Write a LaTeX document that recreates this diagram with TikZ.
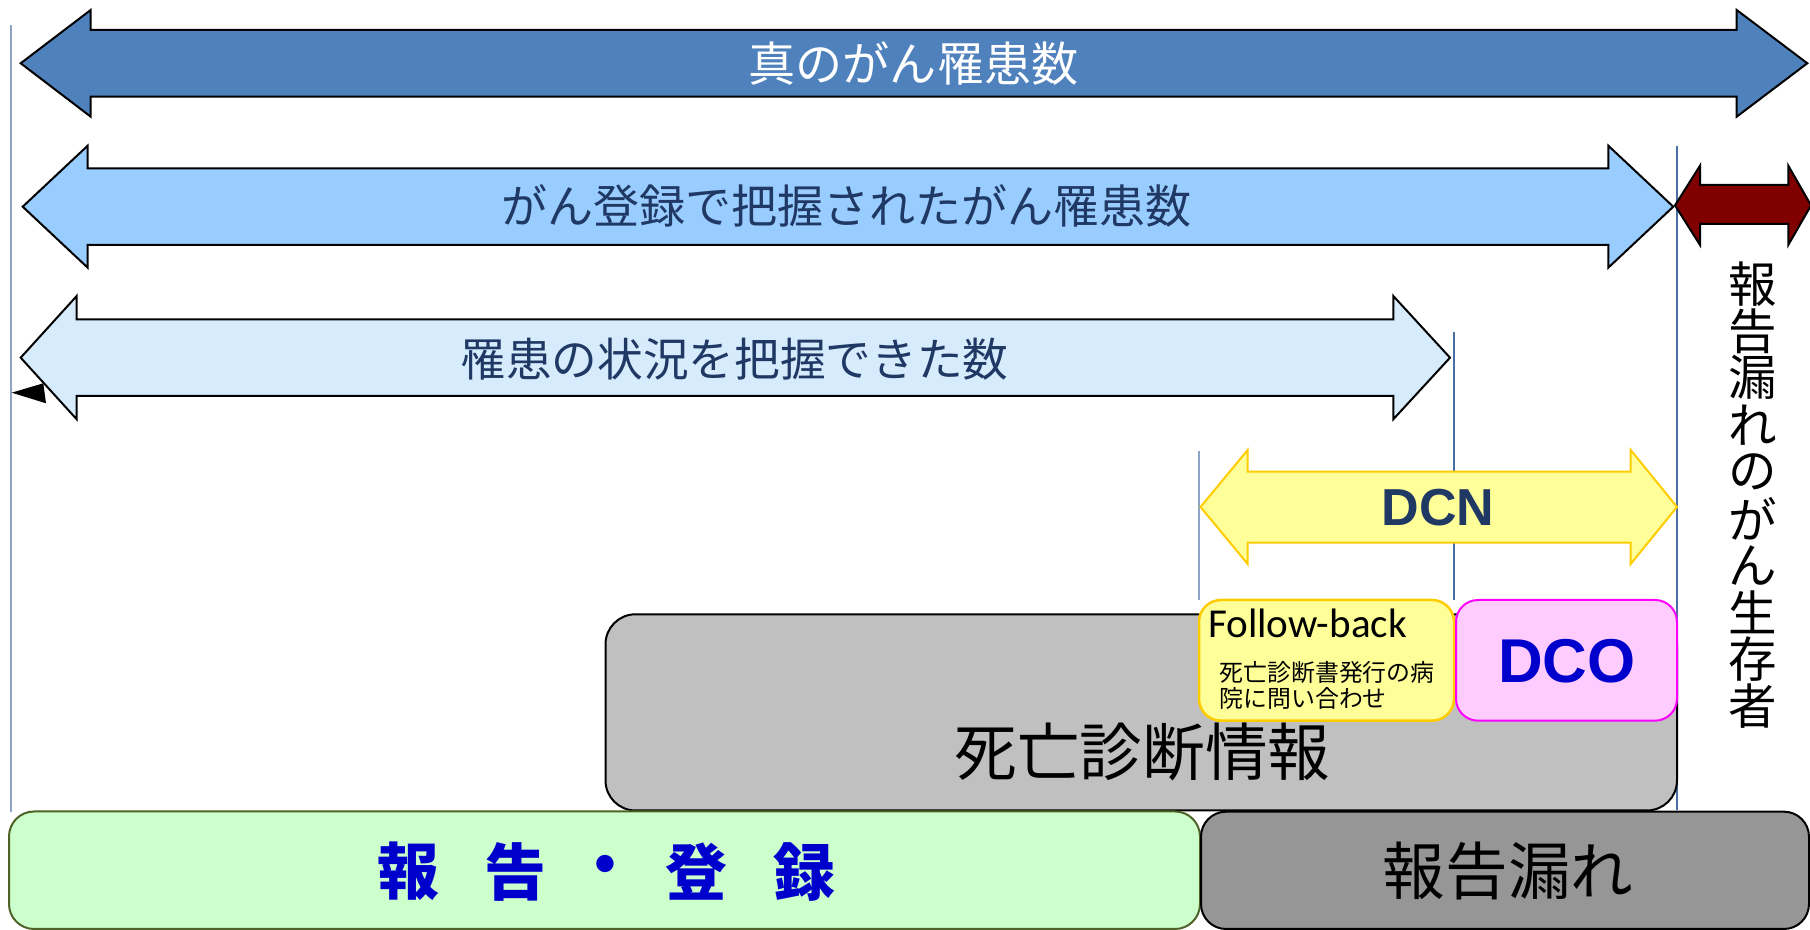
\documentclass[tikz,border=0pt]{standalone}
\usepackage{fontspec}
\newfontfamily\jp{Noto Sans CJK JP}
\newfontfamily\latfont{Liberation Sans}
\newfontfamily\calfont{Carlito}
\definecolor{cTrue}{HTML}{4F81BD}
\definecolor{cReg}{HTML}{99CCFF}
\definecolor{cKnown}{HTML}{D6EBFC}
\definecolor{cNavy}{HTML}{1F3864}
\definecolor{cMiss}{HTML}{800000}
\definecolor{cYel}{HTML}{FFFF99}
\definecolor{cGold}{HTML}{FFCC00}
\definecolor{cPink}{HTML}{FFCCFF}
\definecolor{cMag}{HTML}{FF00FF}
\definecolor{cBlue}{HTML}{0000CC}
\definecolor{cGray}{HTML}{C0C0C0}
\definecolor{cDark}{HTML}{969696}
\definecolor{cGreen}{HTML}{CCFFCC}
\definecolor{cOlive}{HTML}{4F6228}
\definecolor{cGuideA}{HTML}{8DA3C8}
\definecolor{cGuideB}{HTML}{4A6FA5}
\tikzset{
  arrowshape/.style={draw=black, line width=0.2mm, line join=miter},
  guideA/.style={draw=cGuideA, line width=0.15mm},
  guideB/.style={draw=cGuideB, line width=0.15mm},
  txt/.style={inner sep=0pt, outer sep=0pt},
  boxshape/.style={draw=black, line width=0.2mm},
}
\begin{document}
\begin{tikzpicture}[x=0.1mm, y=-0.1mm]
\useasboundingbox (0,0) rectangle (1810,930);

% guide lines
\coordinate (g1a) at (11,25);      \coordinate (g1b) at (11,812);
\coordinate (g2a) at (1677,146);   \coordinate (g2b) at (1677,810);
\coordinate (g3a) at (1454,331.7); \coordinate (g3b) at (1454,600);
\coordinate (g4a) at (1199,450.7); \coordinate (g4b) at (1199,600);
\draw[guideA] (g1a) -- (g1b);
\draw[guideB] (g2a) -- (g2b);
\draw[guideB] (g3a) -- (g3b);
\draw[guideA] (g4a) -- (g4b);

% arrow: true number
\draw[arrowshape, fill=cTrue] (20.7,63.3) -- (90.7,10) -- (90.7,30) -- (1736.7,30) -- (1736.7,10)
  -- (1807.3,63.3) -- (1736.7,116.7) -- (1736.7,96.7) -- (90.7,96.7) -- (90.7,116.7) -- cycle;
\node[txt, text=white, font=\jp\fontsize{13.4pt}{14pt}\selectfont] (ttrue) at (913.5,63.3) {真のがん罹患数};

% arrow: registered
\draw[arrowshape, fill=cReg] (22.7,206.7) -- (87.7,145.7) -- (87.7,168.3) -- (1608.3,168.3) -- (1608.3,145.7)
  -- (1673.3,206.7) -- (1608.3,267.7) -- (1608.3,245) -- (87.7,245) -- (87.7,267.7) -- cycle;
\node[txt, text=cNavy, font=\jp\fontsize{13.1pt}{14pt}\selectfont] (treg) at (846.5,206) {がん登録で把握されたがん罹患数};

% arrow: known
\draw[arrowshape, fill=cKnown] (20.7,357.7) -- (76.7,296) -- (76.7,319.3) -- (1393.3,319.3) -- (1393.3,296)
  -- (1450,357.7) -- (1393.3,419.3) -- (1393.3,396) -- (76.7,396) -- (76.7,419.3) -- cycle;
\node[txt, text=cNavy, font=\jp\fontsize{13.0pt}{14pt}\selectfont] (tknown) at (734.5,359) {罹患の状況を把握できた数};
\fill[black] (11.7,392.7) -- (43.3,383.3) -- (46,403.3) -- cycle;

% arrow: missed survivors
\draw[arrowshape, fill=cMiss] (1675,205.4) -- (1700,165.7) -- (1700,185) -- (1788.3,185) -- (1788.3,165.7)
  -- (1811,205.4) -- (1788.3,245) -- (1788.3,224) -- (1700,224) -- (1700,245) -- cycle;
\foreach \c [count=\i from 0] in {報,告,漏,れ,の,が,ん,生,存,者}
  \node[txt, font=\jp\fontsize{13.8pt}{14pt}\selectfont] (v\i) at (1753,284+\i*46.9) {\c};

% DCN arrow
\draw[draw=cGold, line width=0.2mm, fill=cYel] (1200.5,507) -- (1247.7,450) -- (1247.7,471.7) -- (1630.7,471.7) -- (1630.7,450)
  -- (1677,507) -- (1630.7,564) -- (1630.7,542.7) -- (1247.7,542.7) -- (1247.7,564) -- cycle;
\node[txt, text=cNavy, font=\latfont\bfseries\fontsize{14.8pt}{16pt}\selectfont] (tdcn) at (1438,508) {DCN};

% death certificate box
\draw[boxshape, fill=cGray, rounded corners=3mm] (605.5,614.3) rectangle (1677,810.5);
\node[txt, font=\jp\fontsize{17.8pt}{18pt}\selectfont] (tdeath) at (1142.5,752.5) {死亡診断情報};

% follow-back box
\draw[draw=cGold, line width=0.25mm, fill=cYel, rounded corners=2.2mm] (1199,600) rectangle (1454,720.7);
\node[txt, anchor=base west, font=\calfont\fontsize{11.7pt}{12pt}\selectfont] (tfb) at (1208,637.3) {Follow-back};
\node[txt, anchor=west, font=\jp\fontsize{6.8pt}{7pt}\selectfont] (tfb1) at (1219.5,672.3) {死亡診断書発行の病};
\node[txt, anchor=west, font=\jp\fontsize{6.8pt}{7pt}\selectfont] (tfb2) at (1219.5,698.3) {院に問い合わせ};

% DCO box
\draw[draw=cMag, line width=0.2mm, fill=cPink, rounded corners=2.2mm] (1456,600) rectangle (1677,720.7);
\node[txt, text=cBlue, font=\latfont\bfseries\fontsize{17.6pt}{18pt}\selectfont] (tdco) at (1567,661) {DCO};

% report / registration box
\draw[draw=cOlive, line width=0.2mm, fill=cGreen, rounded corners=2.5mm] (9,811.5) rectangle (1200,929);
\foreach \c/\x [count=\i] in {報/408,告/515,・/605,登/696,録/804}
  \node[txt, text=cBlue, font=\jp\bfseries\fontsize{17.6pt}{18pt}\selectfont] (r\i) at (\x,871.6) {\c};

% report missed box
\draw[boxshape, fill=cDark, rounded corners=2.5mm] (1201,811.7) rectangle (1809,929);
\node[txt, font=\jp\fontsize{17.8pt}{18pt}\selectfont] (tmiss) at (1508,871.5) {報告漏れ};
\end{tikzpicture}
\end{document}
